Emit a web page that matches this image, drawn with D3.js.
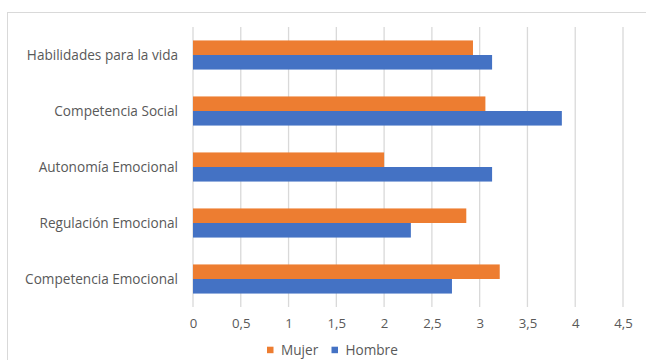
<!DOCTYPE html>
<html>
<head>
<meta charset="utf-8">
<script src="https://cdn.jsdelivr.net/npm/d3@7"></script>
<style>
  html, body { margin: 0; padding: 0; background: #fff; }
  svg text { font-family: "Open Sans", "Noto Sans", sans-serif; fill: #595959; }
</style>
</head>
<body>
<svg id="chart" width="646" height="360"></svg>
<script>
// Dimensiones por sexo (orden de arriba a abajo)
const categories = [
  "Habilidades para la vida",
  "Competencia Social",
  "Autonomía Emocional",
  "Regulación Emocional",
  "Competencia Emocional"
];
const mujer  = [2.93, 3.06, 2.0, 2.86, 3.21];
const hombre = [3.13, 3.86, 3.13, 2.28, 2.71];
const seriesNames = ["Mujer", "Hombre"];
const tickValues = [0, 0.5, 1, 1.5, 2, 2.5, 3, 3.5, 4, 4.5];

const colors = { Mujer: "#ED7D31", Hombre: "#4472C4" };
const svg = d3.select("#chart");

// Marco del gráfico
svg.append("rect")
  .attr("x", 7.5).attr("y", 12.5)
  .attr("width", 660).attr("height", 360)
  .attr("fill", "none").attr("stroke", "#d9d9d9");

const plot = { left: 193, right: 623, top: 27, bottom: 307 };

const x = d3.scaleLinear().domain([0, 4.5]).range([plot.left, plot.right]);
const y = d3.scaleBand().domain(categories).range([plot.top, plot.bottom]).paddingInner(0.48).paddingOuter(0.24);
const ySub = d3.scaleBand().domain(seriesNames).range([0, y.bandwidth()]);

// Líneas de cuadrícula verticales
svg.append("g")
  .selectAll("line")
  .data(tickValues.slice(1))
  .join("line")
  .attr("x1", d => x(d)).attr("x2", d => x(d))
  .attr("y1", plot.top).attr("y2", plot.bottom)
  .attr("stroke", "#d9d9d9").attr("stroke-width", 1.3);

// Eje de categorías
svg.append("line")
  .attr("x1", x(0)).attr("x2", x(0))
  .attr("y1", plot.top).attr("y2", plot.bottom)
  .attr("stroke", "#d9d9d9").attr("stroke-width", 1.3);

// Barras
const rows = categories.map((c, i) => ({ cat: c, Mujer: mujer[i], Hombre: hombre[i] }));
const groups = svg.append("g").selectAll("g")
  .data(rows)
  .join("g")
  .attr("transform", d => `translate(0,${y(d.cat)})`);

groups.selectAll("rect")
  .data(d => seriesNames.map(s => ({ s, v: d[s] })))
  .join("rect")
  .attr("x", x(0))
  .attr("y", d => ySub(d.s))
  .attr("width", d => x(d.v) - x(0))
  .attr("height", ySub.bandwidth())
  .attr("fill", d => colors[d.s]);

// Etiquetas de categorías
svg.append("g").selectAll("text")
  .data(categories)
  .join("text")
  .attr("x", 178)
  .attr("y", d => y(d) + y.bandwidth() / 2)
  .attr("dy", "0.35em")
  .attr("text-anchor", "end")
  .attr("font-size", 13.6)
  .text(d => d);

// Eje de valores
const xAxis = d3.axisBottom(x)
  .tickValues(tickValues)
  .tickSize(0)
  .tickPadding(0)
  .tickFormat(d => String(d).replace(".", ","));
const gx = svg.append("g").attr("transform", `translate(0,${plot.bottom + 16})`).call(xAxis);
gx.select(".domain").remove();
gx.selectAll("text")
  .attr("font-size", 13.2).attr("dy", "0.35em").attr("y", 0)
  .style("font-family", '"Open Sans", sans-serif').attr("fill", "#595959");

// Leyenda
const legend = svg.append("g").attr("transform", "translate(267,350)");
const legendItems = [{ s: "Mujer", x: 0 }, { s: "Hombre", x: 64.5 }];
const li = legend.selectAll("g").data(legendItems).join("g").attr("transform", d => `translate(${d.x},0)`);
li.append("rect").attr("x", 0).attr("y", -3.3).attr("width", 6.5).attr("height", 6.5).attr("fill", d => colors[d.s]);
li.append("text").attr("x", 14).attr("y", 0).attr("dy", "0.35em").attr("font-size", 13.6).text(d => d.s);
</script>
</body>
</html>
